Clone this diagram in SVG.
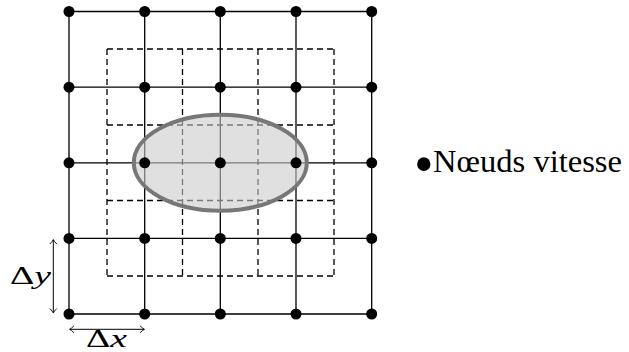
<svg xmlns="http://www.w3.org/2000/svg" width="629" height="352" viewBox="0 0 629 352">
<style>
.grid{stroke:#000;stroke-width:1.3;fill:none}
.dash{stroke:#000;stroke-width:1.3;fill:none;stroke-dasharray:6 4}
.node{fill:#000}
.dim{stroke:#000;stroke-width:1;fill:none}
.lbl{font-family:"Liberation Serif","Times New Roman",serif;fill:#000}
</style>
<defs>
<marker id="tip" viewBox="-6 -5 8 10" markerWidth="8" markerHeight="10" refX="0" refY="0" orient="auto-start-reverse" markerUnits="userSpaceOnUse">
<path d="M-4,-3.5 Q-1,-0.5 0.5,0 Q-1,0.5 -4,3.5" fill="none" stroke="#000" stroke-width="0.9"/>
</marker>
</defs>
<rect width="629" height="352" fill="#fff"/>
<g id="dashed-grid">
<path class="dash" d="M107,49V276M182.5,49V276M258,49V276M334,49V276M107,49H334M107,125H334M107,200.5H334M107,276H334"/>
</g>
<g id="connectors">
<path class="grid" d="M69,11.5V314M144.7,11.5V314M220.3,11.5V314M296,11.5V314M371.7,11.5V314M69,11.5H371.7M69,87.2H371.7M69,162.8H371.7M69,238.4H371.7M69,314H371.7"/>
</g>
<g id="region">
<ellipse cx="220.3" cy="162.7" rx="86.5" ry="48" fill="#cbcbcb" fill-opacity="0.6" stroke="#777" stroke-width="4"/>
</g>
<g id="nodes">
<circle class="node" cx="69" cy="11.5" r="5.5"/><circle class="node" cx="144.7" cy="11.5" r="5.5"/><circle class="node" cx="220.3" cy="11.5" r="5.5"/><circle class="node" cx="296" cy="11.5" r="5.5"/><circle class="node" cx="371.7" cy="11.5" r="5.5"/>
<circle class="node" cx="69" cy="87.2" r="5.5"/><circle class="node" cx="144.7" cy="87.2" r="5.5"/><circle class="node" cx="220.3" cy="87.2" r="5.5"/><circle class="node" cx="296" cy="87.2" r="5.5"/><circle class="node" cx="371.7" cy="87.2" r="5.5"/>
<circle class="node" cx="69" cy="162.8" r="5.5"/><circle class="node" cx="144.7" cy="162.8" r="5.5"/><circle class="node" cx="220.3" cy="162.8" r="5.5"/><circle class="node" cx="296" cy="162.8" r="5.5"/><circle class="node" cx="371.7" cy="162.8" r="5.5"/>
<circle class="node" cx="69" cy="238.4" r="5.5"/><circle class="node" cx="144.7" cy="238.4" r="5.5"/><circle class="node" cx="220.3" cy="238.4" r="5.5"/><circle class="node" cx="296" cy="238.4" r="5.5"/><circle class="node" cx="371.7" cy="238.4" r="5.5"/>
<circle class="node" cx="69" cy="314" r="5.5"/><circle class="node" cx="144.7" cy="314" r="5.5"/><circle class="node" cx="220.3" cy="314" r="5.5"/><circle class="node" cx="296" cy="314" r="5.5"/><circle class="node" cx="371.7" cy="314" r="5.5"/>
</g>
<g id="dim-y">
<line class="dim" x1="53.3" y1="240" x2="53.3" y2="312.5" marker-start="url(#tip)" marker-end="url(#tip)"/>
<text class="lbl" x="10" y="283.5" font-size="25" textLength="41" lengthAdjust="spacingAndGlyphs">Δ<tspan font-style="italic">y</tspan></text>
</g>
<g id="dim-x">
<line class="dim" x1="70" y1="329.3" x2="144" y2="329.3" marker-start="url(#tip)" marker-end="url(#tip)"/>
<text class="lbl" x="86" y="347" font-size="25" textLength="41" lengthAdjust="spacingAndGlyphs">Δ<tspan font-style="italic">x</tspan></text>
</g>
<g id="legend">
<text class="lbl" x="414" y="171.7" font-size="31"><tspan font-size="56" dy="11">•</tspan><tspan x="433" dy="-11" textLength="189" lengthAdjust="spacingAndGlyphs">Nœuds vitesse</tspan></text>
</g>
</svg>
